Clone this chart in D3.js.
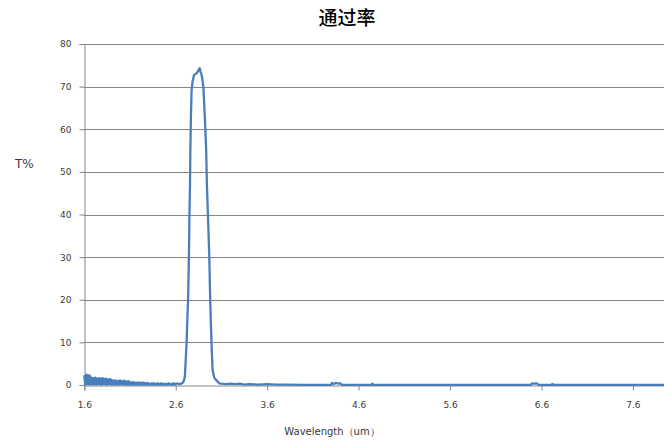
<!DOCTYPE html>
<html><head><meta charset="utf-8">
<script src="https://cdn.jsdelivr.net/npm/d3@7"></script>
<style>
html,body{margin:0;padding:0;background:#fff;}
svg{display:block;}
</style></head>
<body>
<script>
// ---- data ----
const title = "通过率";
const yLabel = "T%";
const xLabel = "Wavelength（um）";
const xTicks = [1.6, 2.6, 3.6, 4.6, 5.6, 6.6, 7.6];
const yTicks = [0, 10, 20, 30, 40, 50, 60, 70, 80];

// noisy start region: 1.60 .. 2.60, step 0.01
const noiseStart = 1.60;
const noiseStep = 0.01;
const noiseT = [
  2.3,0.1,2.4,0.2,2.3,0.1,2.2,0.2,1.7,0.1,
  1.6,0.2,1.7,0.1,1.5,0.2,1.6,0.1,1.5,0.1,
  1.6,0.2,1.4,0.1,1.5,0.1,1.3,0.2,1.4,0.1,
  1.2,0.1,1.0,0.2,1.1,0.1,0.9,0.1,1.0,0.1,
  1.0,0.2,0.9,0.1,1.0,0.1,0.8,0.1,0.9,0.1,
  0.7,0.1,0.6,0.1,0.7,0.1,0.5,0.1,0.6,0.1,
  0.6,0.1,0.5,0.1,0.6,0.1,0.4,0.1,0.5,0.1,
  0.4,0.1,0.3,0.1,0.4,0.1,0.4,0.1,0.3,0.1,
  0.4,0.1,0.3,0.1,0.4,0.1,0.3,0.1,0.3,0.1,
  0.3,0.1,0.4,0.1,0.3,0.1,0.3,0.1,0.4,0.1,
  0.3
];

// transmission peak
const peakW = [2.62,2.64,2.66,2.675,2.69,2.70,2.714,2.719,2.728,2.735,2.739,2.744,2.750,2.756,2.760,2.766,2.773,2.784,2.800,2.825,2.840,2.862,2.872,2.886,2.902,2.918,2.933,2.941,2.952,2.967,2.977,2.990,3.003,3.020,3.040,3.075];
const peakT = [0.3, 0.2, 0.3, 0.5,  1.0, 2.0, 8.0,  10.0, 16.0, 20.0, 24.0, 30.0, 40.0, 47.0, 55.0, 63.0, 69.0, 71.2, 72.7, 73.1, 73.5, 74.3, 73.5, 72.5, 70.0, 63.0, 55.0, 47.0, 40.0, 30.0, 20.0, 10.5, 3.5, 1.8, 1.2, 0.4];

// tail
const tailW = [3.10,3.15,3.20,3.25,3.30,3.35,3.40,3.50,3.60,3.70,3.80,4.00,4.30,4.31,4.33,4.35,4.38,4.40,4.42,4.74,4.75,4.76,5.50,6.48,6.50,6.52,6.55,6.57,6.71,6.72,6.73,7.94];
const tailT = [0.3, 0.2, 0.3, 0.2, 0.3, 0.1, 0.2, 0.1, 0.2, 0.1, 0.1, 0.05,0.05,0.5, 0.2, 0.5, 0.3, 0.4, 0.05,0.05,0.3, 0.05,0.05,0.05,0.4, 0.3, 0.4, 0.05,0.05,0.25,0.05,0.05];

(function () {
// ---- build series ----
const series = [];
noiseT.forEach((v, i) => series.push({w: noiseStart + i * noiseStep, t: v}));
peakW.forEach((w, i) => series.push({w, t: peakT[i]}));
tailW.forEach((w, i) => series.push({w, t: tailT[i]}));

// ---- layout ----
const W = 664, H = 440;
const mLeft = 84.3, mRight = 664, mTop = 44, mBottom = 385;

const svg = d3.select("body").append("svg").attr("width", W).attr("height", H);

const x = d3.scaleLinear().domain([1.6, 7.94]).range([mLeft, mRight]);
const y = d3.scaleLinear().domain([0, 80]).range([mBottom, mTop]);

const gridColor = "#868686";
const textColor = "#3a3a3a";
const font = "'DejaVu Sans', Verdana, sans-serif";

// gridlines
svg.append("g").selectAll("line").data(yTicks.filter(d => d > 0)).join("line")
  .attr("x1", mLeft).attr("x2", mRight)
  .attr("y1", d => Math.round(y(d)) + 0.5).attr("y2", d => Math.round(y(d)) + 0.5)
  .attr("stroke", gridColor).attr("stroke-width", 1);

// y axis
const yAxis = svg.append("g").attr("transform", `translate(${Math.round(mLeft)+0.5},0)`)
  .call(d3.axisLeft(y).tickValues(yTicks).tickSize(5).tickPadding(8).tickFormat(d3.format("d")));
yAxis.select(".domain").attr("stroke", gridColor);
yAxis.selectAll(".tick line").attr("stroke", gridColor);
yAxis.selectAll(".tick text").attr("fill", textColor).style("font-family", font).style("font-size", "9px");

// x axis
const xAxis = svg.append("g").attr("transform", `translate(0,${Math.round(mBottom)+0.5})`)
  .call(d3.axisBottom(x).tickValues(xTicks).tickSize(5).tickPadding(11).tickFormat(d3.format(".1f")));
xAxis.select(".domain").attr("stroke", gridColor);
xAxis.selectAll(".tick line").attr("stroke", gridColor);
xAxis.selectAll(".tick text").attr("fill", textColor).style("font-family", font).style("font-size", "9px");

// line
const line = d3.line().x(d => x(d.w)).y(d => y(d.t));
svg.append("path").datum(series)
  .attr("d", line)
  .attr("fill", "none")
  .attr("stroke", "#4a7ebb")
  .attr("stroke-width", 2.3)
  .attr("stroke-linejoin", "round");

// title
svg.append("text").attr("x", 347).attr("y", 25).attr("text-anchor", "middle")
  .style("font-family", "'Noto Sans CJK SC', sans-serif").style("font-size", "19px").style("font-weight", "500")
  .attr("fill", "#000").text(title);

// y label
svg.append("text").attr("x", 15).attr("y", 168)
  .style("font-family", font).style("font-size", "12px").attr("fill", textColor).text(yLabel);

// x label
svg.append("text").attr("x", 332).attr("y", 435).attr("text-anchor", "middle")
  .style("font-family", font).style("font-size", "10px").attr("fill", textColor).text(xLabel);
})();
</script>
</body></html>
